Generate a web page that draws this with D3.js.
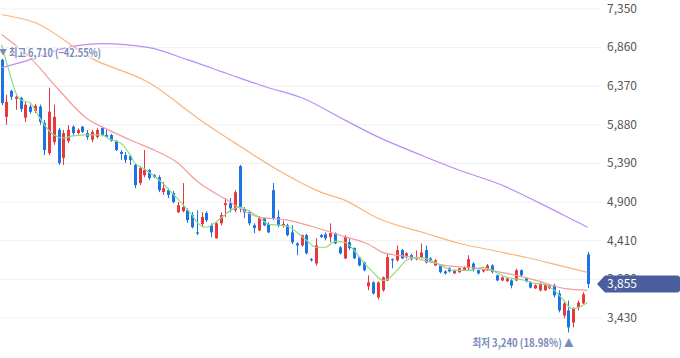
<!DOCTYPE html>
<html>
<head>
<meta charset="utf-8">
<script src="https://cdn.jsdelivr.net/npm/d3@7"></script>
<style>
body { margin: 0; background: #fff; }
svg { display: block; font-family: "Noto Sans CJK KR", "Noto Sans", sans-serif; }
</style>
</head>
<body>
<svg id="chart" width="680" height="358"></svg>
<script>
// daily candles, oldest first
var open = [6700,5975,6305,6205,6215,5965,6105,6050,6105,5900,
  5515,5655,5810,5455,5670,5850,5770,5850,5770,5685,
  5720,5835,5745,5745,5670,5530,5490,5480,5365,5135,
  5235,5300,5235,5210,5020,5045,5010,4765,4780,4790,
  4730,4510,4615,4755,4600,4435,4625,4855,4880,4790,
  5350,4805,4765,4600,4535,4690,4615,5045,4705,4590,
  4600,4510,4370,4345,4475,4170,4115,4475,4485,4450,
  4500,4320,4180,4385,4310,4195,4130,3825,3875,3685,
  3775,3900,4170,4155,4285,4195,4220,4170,4195,4285,
  4180,4090,4090,4015,4055,3990,4005,4030,4055,4115,
  4030,4015,4030,4090,3965,3900,3890,3900,3900,4030,
  3925,3875,3800,3775,3775,3800,3835,3735,3455,3520,
  3365,3560,3610,4230]
var high = [6710,6255,6320,6245,6230,6165,6130,6140,6130,5935,
  6345,6130,5835,5810,5870,5870,5830,5860,5810,5810,
  5830,5850,5810,5760,5680,5555,5530,5495,5390,5350,
  5555,5315,5250,5235,5150,5070,5035,4895,5135,4815,
  4765,4790,4765,4780,4625,4640,4765,4945,4945,5045,
  5365,4830,4790,4625,4715,4700,4640,5135,4790,4660,
  4620,4600,4385,4480,4490,4185,4435,4490,4510,4625,
  4510,4335,4475,4435,4320,4205,4140,3965,3890,3890,
  3950,4245,4180,4345,4300,4260,4240,4280,4370,4345,
  4195,4170,4105,4030,4065,4040,4060,4080,4220,4130,
  4040,4050,4110,4105,3975,3950,3935,3915,4050,4040,
  3940,3890,3850,3875,3860,3845,3860,3775,3645,3645,
  3560,3645,3750,4260]
var low = [6125,5875,6190,6065,6040,5910,6015,6025,5875,5490,
  5490,5620,5365,5365,5640,5740,5750,5770,5685,5655,
  5700,5730,5710,5660,5540,5430,5390,5365,5070,5110,
  5210,5175,5200,5020,4985,4945,4880,4755,4765,4630,
  4560,4475,4575,4640,4450,4430,4600,4705,4765,4765,
  4765,4690,4600,4500,4525,4590,4500,4665,4575,4570,
  4460,4360,4220,4330,4230,4140,4090,4440,4410,4385,
  4360,4230,4170,4285,4170,4080,4015,3775,3720,3660,
  3760,3890,4055,4140,4170,4180,4150,4155,4180,4115,
  4130,4080,3990,3975,4000,3980,3995,4020,4030,4015,
  3975,4000,4020,3990,3890,3890,3880,3800,3890,3950,
  3875,3800,3790,3760,3765,3790,3685,3495,3420,3240,
  3305,3520,3600,3800]
var close = [6150,6165,6230,6230,6075,6130,6040,6115,5910,5555,
  6040,5975,5390,5770,5810,5770,5810,5785,5720,5785,
  5810,5745,5720,5670,5555,5505,5430,5430,5110,5325,
  5300,5200,5210,5045,5070,4985,4895,4855,4830,4665,
  4575,4495,4705,4665,4510,4625,4730,4880,4815,5020,
  4815,4765,4625,4565,4690,4600,4510,4690,4600,4615,
  4475,4385,4345,4475,4245,4155,4345,4450,4435,4500,
  4370,4245,4450,4310,4180,4090,4030,3875,3735,3875,
  3940,4195,4155,4285,4180,4245,4170,4195,4255,4130,
  4145,4155,4005,3990,4015,4030,4055,4065,4170,4030,
  3990,4040,4090,4005,3900,3940,3925,3835,4030,3965,
  3890,3810,3840,3860,3850,3835,3710,3520,3610,3305,
  3545,3620,3725,3855]

// moving averages, read at candle positions
var ma5Idx = [0,2,3,4,6,8,9,11,13,15,18,21,23,25,27,28,30,32,34,36,38,40,41,43,45,47,49,50,52,54,56,58,60,62,64,66,68,70,72,74,76,78,80,81,83,85,87,89,91,93,95,98,101,103,106,109,112,114,116,118,119,120,122,123]
var ma5Val = [6892,6472,6281,6192,6154,5963,5874,5746,5708,5734,5746,5746,5683,5644,5492,5390,5314,5225,5123,4995,4868,4728,4640,4575,4640,4741,4817,4830,4779,4703,4614,4601,4588,4512,4410,4321,4321,4397,4385,4283,4130,4003,3901,3914,4028,4155,4194,4181,4130,4066,4028,4028,4066,4028,3939,3914,3862,3850,3774,3647,3570,3544,3583,3621]
var ma20Idx = [0,6,12,18,22,28,32,37,41,47,54,60,65,71,77,80,86,93,100,106,113,118,123]
var ma20Val = [7019,6726,6319,5950,5823,5657,5555,5390,5161,4932,4703,4665,4588,4474,4359,4257,4194,4092,4054,3990,3888,3799,3774]
var ma60Idx = [0,7,19,31,42,50,58,67,72,79,89,96,103,110,117,123]
var ma60Val = [7274,7172,6714,6408,5924,5606,5301,5021,4919,4690,4499,4372,4283,4194,4092,4003]
var ma120Idx = [0,6,12,21,31,39,48,56,63,72,79,88,96,105,113,118,123]
var ma120Val = [6599,6701,6828,6905,6854,6701,6510,6345,6217,5937,5721,5492,5301,5110,4881,4728,4575]

var priceTicks = [3430,3920,4410,4900,5390,5880,6370,6860,7350]

var upColor = "#e8383d"
var downColor = "#1a74e5"
var noteColor = "#7b8bbb"

var svg = d3.select("#chart")
var x = d3.scaleLinear().domain([0, close.length - 1]).range([1.5, 587.5])
var y = d3.scaleLinear().domain([3430, 7350]).range([317.5, 8.5])

// grid + right axis
var axis = svg.append("g")
    .attr("transform", "translate(601,0)")
    .call(d3.axisRight(y).tickValues(priceTicks).tickSize(-601).tickPadding(6).tickFormat(d3.format(",")))
axis.select(".domain").remove()
axis.selectAll(".tick line").attr("stroke", "#efefef")
axis.selectAll(".tick text")
    .attr("fill", "#555")
    .attr("font-size", 12)
    .attr("font-family", "Noto Sans CJK KR, sans-serif")

svg.append("clipPath").attr("id", "plot")
    .append("rect").attr("x", 0).attr("y", 0).attr("width", 600).attr("height", 358)

var plot = svg.append("g").attr("clip-path", "url(#plot)")

// candles
var idx = d3.range(close.length)
plot.append("g").selectAll("line").data(idx).join("line")
    .attr("x1", function(i) { return Math.round(x(i)) + 0.5 })
    .attr("x2", function(i) { return Math.round(x(i)) + 0.5 })
    .attr("y1", function(i) { return y(high[i]) })
    .attr("y2", function(i) { return y(low[i]) })
    .attr("stroke", function(i) { return close[i] >= open[i] ? upColor : downColor })
    .attr("stroke-width", 1)

plot.append("g").selectAll("rect").data(idx).join("rect")
    .attr("x", function(i) { return Math.round(x(i)) - 1 })
    .attr("width", 3)
    .attr("y", function(i) { return y(Math.max(open[i], close[i])) })
    .attr("height", function(i) { return Math.max(1, Math.abs(y(open[i]) - y(close[i]))) })
    .attr("fill", function(i) { return close[i] >= open[i] ? upColor : downColor })

// moving average lines
function drawMA(ix, vals, color) {
    var line = d3.line()
        .x(function(d, k) { return x(ix[k]) })
        .y(function(d) { return y(d) })
        .curve(d3.curveMonotoneX)
    plot.append("path")
        .attr("d", line(vals))
        .attr("fill", "none")
        .attr("stroke", color)
        .attr("stroke-width", 1.2)
}
drawMA(ma120Idx, ma120Val, "#bb8cf3")
drawMA(ma60Idx, ma60Val, "#f8b57c")
drawMA(ma20Idx, ma20Val, "#f59c9c")
drawMA(ma5Idx, ma5Val, "#8edc84")

// high / low markers
var last = close[close.length - 1]
var hiI = d3.maxIndex(high)
var loI = d3.minIndex(low)
var pct = d3.format(".2f")
var fmt = d3.format(",")

svg.append("text")
    .attr("x", x(hiI) + 1.5)
    .attr("y", 55)
    .attr("text-anchor", "middle")
    .attr("fill", noteColor)
    .attr("font-size", 8)
    .text("▼")
svg.append("text")
    .attr("x", 9)
    .attr("y", 57)
    .attr("fill", noteColor)
    .attr("font-size", 11)
    .attr("font-weight", "bold")
    .attr("textLength", 92)
    .attr("lengthAdjust", "spacingAndGlyphs")
    .attr("stroke", "#fff").attr("stroke-width", 2).attr("paint-order", "stroke")
    .text("최고 " + fmt(high[hiI]) + " (" + pct((last / high[hiI] - 1) * 100) + "%)")

svg.append("text")
    .attr("x", x(loI) + 5)
    .attr("y", 347)
    .attr("text-anchor", "end")
    .attr("fill", noteColor)
    .attr("font-size", 11)
    .attr("font-weight", "bold")
    .attr("textLength", 101)
    .attr("lengthAdjust", "spacingAndGlyphs")
    .text("최저 " + fmt(low[loI]) + " (" + pct((last / low[loI] - 1) * 100) + "%) ▲")

// current price tag
var ty = y(last)
svg.append("path")
    .attr("d", "M597," + ty + "L605," + (ty - 8.5) + "H677Q680," + (ty - 8.5) + " 680," + (ty - 5.5) + "V" + (ty + 5.5) + "Q680," + (ty + 8.5) + " 677," + (ty + 8.5) + "H605Z")
    .attr("fill", "#4a5d9c")
svg.append("text")
    .attr("x", 607)
    .attr("y", ty)
    .attr("dy", "0.35em")
    .attr("fill", "#fff")
    .attr("font-size", 12)
    .text(fmt(last))
</script>
</body>
</html>
